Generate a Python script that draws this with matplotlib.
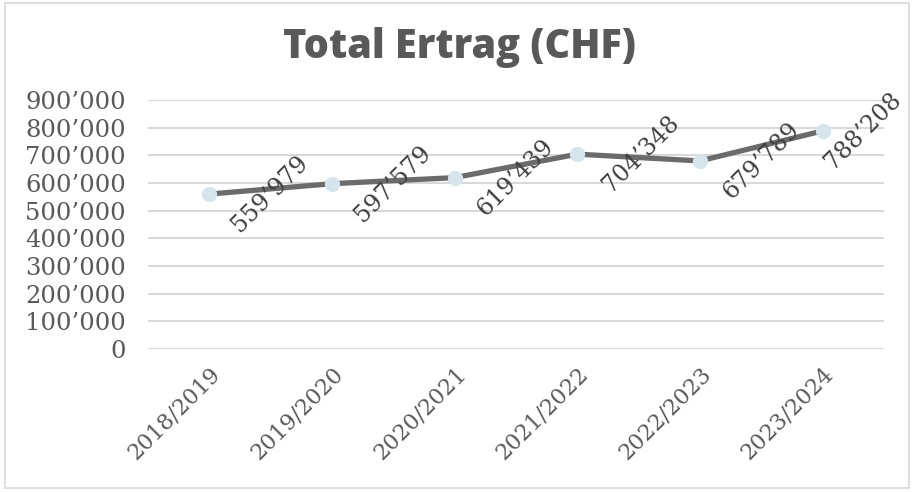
import matplotlib.pyplot as plt
from matplotlib.patches import Rectangle
from matplotlib.ticker import FuncFormatter

years = ['2018/2019', '2019/2020', '2020/2021', '2021/2022', '2022/2023', '2023/2024']
ertrag = [559979, 597579, 619439, 704348, 679789, 788208]
yticks = [0, 100000, 200000, 300000, 400000, 500000, 600000, 700000, 800000, 900000]


def chf(v):
    return '{:,}'.format(int(v)).replace(',', '\u2019')


fig = plt.figure(figsize=(9.14, 4.92), dpi=100)
fig.patches.append(Rectangle((0.005, 0.008), 0.99, 0.985, transform=fig.transFigure,
                             fill=False, edgecolor='#d9d9d9', linewidth=1.2))

ax = fig.add_axes([0.162, 0.2907, 0.805, 0.506])
x = list(range(len(years)))
ax.plot(x, ertrag, color='#6b6b6b', linewidth=3.8, zorder=3,
        marker='o', markersize=10, markerfacecolor='#d6e4ec', markeredgecolor='#d6e4ec')

# data labels, rotated like the excel original
offsets = [44, 44, 44, 46, 44, 29]
for i, v in enumerate(ertrag):
    ax.annotate(chf(v), (x[i], v), xytext=(offsets[i], 0), textcoords='offset points',
                rotation=45, ha='center', va='center', fontsize=17,
                family='DejaVu Serif', color='#404040', zorder=4)

ax.set_xlim(-0.5, len(years) - 0.5)
ax.set_ylim(0, 900000)
ax.set_yticks(yticks)
ax.yaxis.set_major_formatter(FuncFormatter(lambda v, p: chf(v)))
ax.set_xticks(x)
ax.set_xticklabels(years, rotation=45, ha='right', va='top', rotation_mode='anchor')
ax.grid(axis='y', color='#d9d9d9', linewidth=1.5)
ax.set_axisbelow(True)
for s in ax.spines.values():
    s.set_visible(False)
ax.tick_params(axis='both', length=0, labelsize=16, labelcolor='#595959')
ax.tick_params(axis='y', pad=16, labelsize=17.5)
ax.tick_params(axis='x', pad=10)
for lab in ax.get_xticklabels() + ax.get_yticklabels():
    lab.set_family('DejaVu Serif')

fig.text(0.503, 0.904, 'Total Ertrag (CHF)', ha='center', va='center',
         fontsize=28.5, fontweight='heavy', family='Open Sans', color='#595959')

fig.savefig('out.png', dpi=100)
